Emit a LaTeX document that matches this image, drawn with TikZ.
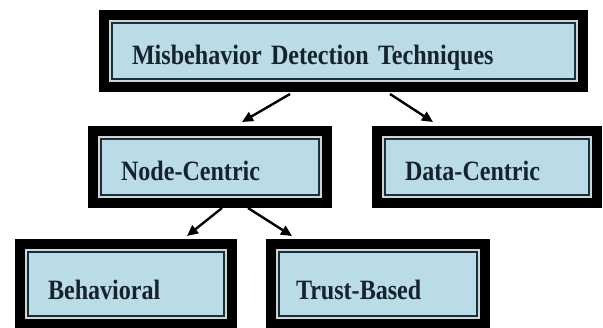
\documentclass[tikz,border=0pt]{standalone}
\usepackage{fontspec}
\newfontfamily\boxfont{Liberation Serif}[FakeStretch=0.86, WordSpace=0.8]
\usetikzlibrary{arrows.meta}
\definecolor{boxfill}{RGB}{186,220,230}
\definecolor{lightline}{RGB}{205,214,214}
\definecolor{darkline}{RGB}{25,48,58}
\definecolor{txt}{RGB}{22,34,44}
\tikzset{
  framebox/.style={rectangle, fill=boxfill, draw=darkline, line width=2pt,
    preaction={draw=black, line width=26pt},
    preaction={draw=lightline, line width=6pt},
    inner xsep=20pt, inner ysep=0pt, align=left,
    text height=27pt, text depth=0pt, text=txt,
    font=\boxfont\bfseries\fontsize{28}{30}\selectfont},
  arr/.style={line width=2.4pt, black, -{Triangle[length=11pt,width=10pt]}}
}
\begin{document}
\begin{tikzpicture}[x=1pt,y=-1pt]
\useasboundingbox (0,0) rectangle (603,328);
\node[framebox, minimum height=56pt, text width=423pt] (top) at (343.5,51) {Misbehavior Detection Techniques};
\node[framebox, minimum height=56pt, text width=178pt] (nc) at (210,167) {Node-Centric};
\node[framebox, minimum height=56pt, text width=164pt] (dc) at (487,167) {Data-Centric};
\node[framebox, minimum height=64pt, text width=156pt, text height=32pt] (beh) at (126,284) {Behavioral};
\node[framebox, minimum height=64pt, text width=164pt, text height=32pt, inner xsep=17pt] (tb) at (378,284) {Trust-Based};
\draw[arr] ([shift={(-53.5,14)}]top.south) -- ([shift={(32,-16)}]nc.north);
\draw[arr] ([shift={(46.5,14)}]top.south) -- ([shift={(-54,-16)}]dc.north);
\draw[arr] ([shift={(12,12)}]nc.south) -- ([shift={(61,-15)}]beh.north);
\draw[arr] ([shift={(38,12)}]nc.south) -- ([shift={(-86,-15)}]tb.north);
\end{tikzpicture}
\end{document}
